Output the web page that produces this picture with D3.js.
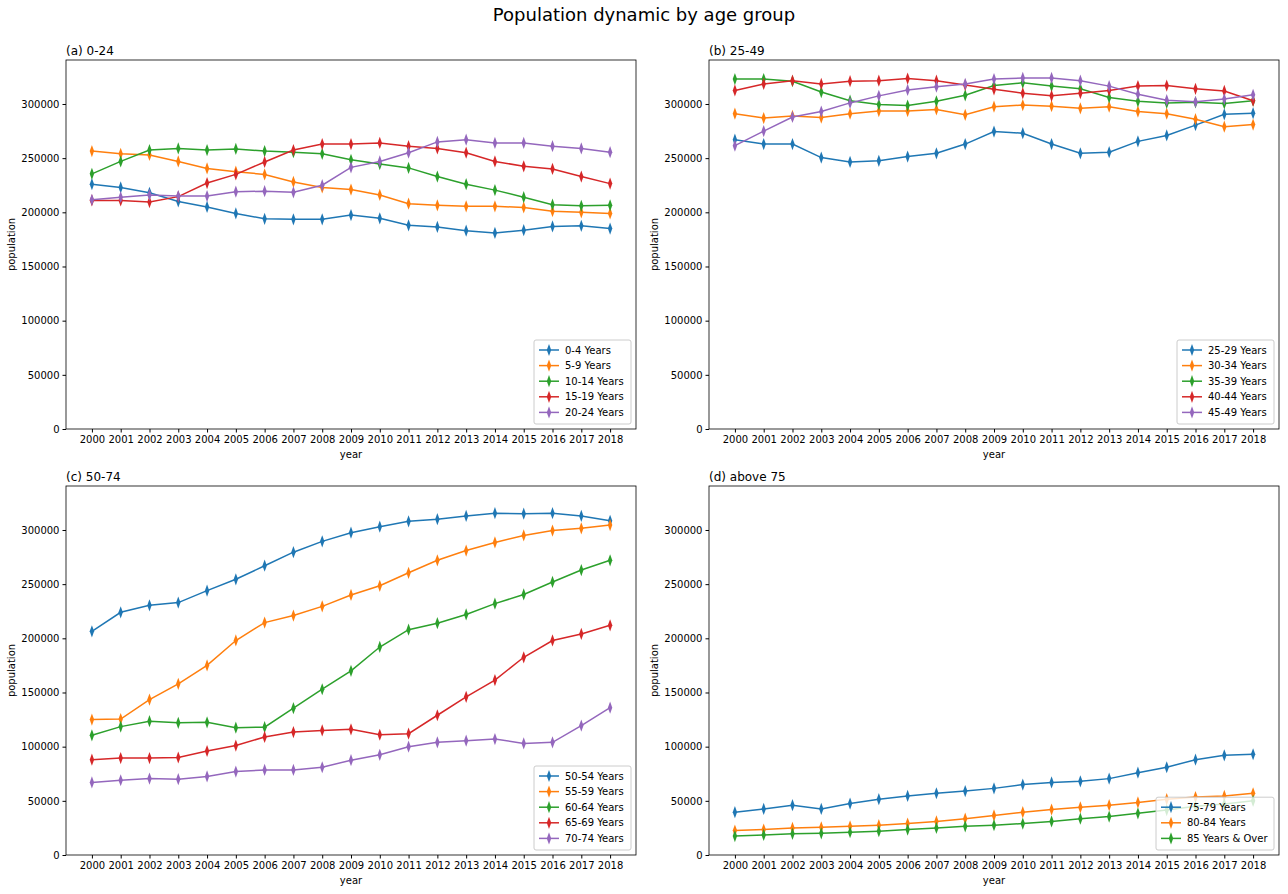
<!DOCTYPE html>
<html><head><meta charset="utf-8">
<script src="https://cdn.jsdelivr.net/npm/d3@7"></script>
<style>body{margin:0;background:#fff;font-family:"DejaVu Sans",sans-serif}</style>
</head><body><svg id="c" width="1288" height="894"></svg>
<script>
const years = d3.range(2000, 2019).map(String);
const yTicks = [0,50000,100000,150000,200000,250000,300000];
const colors = ["#1f77b4","#ff7f0e","#2ca02c","#d62728","#9467bd"];
const panelTitles = ["(a) 0-24","(b) 25-49","(c) 50-74","(d) above 75"];
const namesA = ["0-4 Years","5-9 Years","10-14 Years","15-19 Years","20-24 Years"];
const valsA = [
[226,223,218,210,205,199,194,193.5,193.5,197.5,194.5,188,186.5,183,181,183.5,187,187.5,185],
[256.5,254,253,247,240.5,237.5,235,228,223,221,216,208,206.5,205.5,205.5,204.5,201,200,199],
[235.5,247,257.5,259,257.5,258.5,256.5,255.5,254,248.5,244.5,241,233,226,220.5,214,207,206,206.5],
[211,211,209.5,214.5,227,235,246.5,257.5,263,263,264,261,259,255,247,242.5,240,233,226.5],
[211.5,214,216,215,215,219,219.5,218.5,225,241.5,247,255,265,267,264,264,261,259,255.5]];
const namesB = ["25-29 Years","30-34 Years","35-39 Years","40-44 Years","45-49 Years"];
const valsB = [
[267,263,263,250.5,246.5,247.5,251.5,254.5,263,274.5,273,263,254.5,255.5,265.5,271,280.5,290.5,291.5],
[291,287,289,287.5,291,293.5,293.5,295,290,297.5,299,298,296,297.5,293,291,286,279,281],
[323,323,321,311,303,299.5,298.5,302.5,308,317,319.5,316.5,314,306,302.5,301,301.5,300.5,303],
[312.5,318.5,321.5,318.5,321,321.5,323.5,321.5,317.5,313.5,310,307.5,310,312.5,316.5,317,314,312,303],
[261.5,275,288,293,301,307.5,313,316,318.5,323,324,324,321.5,316.5,309,303.5,302,304.5,308.5]];
const namesC = ["50-54 Years","55-59 Years","60-64 Years","65-69 Years","70-74 Years"];
const valsC = [
[206.5,224,230.5,233,244,254.5,267,279.5,289.5,297.5,303,308,310,313,315.5,315,315.5,313,308.5],
[125,125.5,143.5,158,175,198,214.5,221,229.5,240,248.5,260.5,272,281,288.5,295,299.5,301.5,304.5],
[110.5,118.5,123.5,122,122.5,117.5,118,135.5,153,170,192,208,214,222,232,240.5,252,263,272],
[88,89.5,89.5,90,96,101,109,113.5,115,116,111,112,129,146,161.5,182.5,198,204,212],
[67,69,70.5,70,72.5,77,78.5,78.5,81,87.5,92.5,100,104,105.5,107,103,104,119.5,136]];
const namesD = ["75-79 Years","80-84 Years","85 Years & Over"];
const valsD = [
[39.5,42.5,46,42.5,47.5,51.5,54.5,57,59,61.5,65,67,68,70.5,76,81,88,92,93],
[22.5,23.5,25,25.5,26.5,27.5,29,31,33.5,36.5,39.5,42,44,46,48.5,51.5,53.5,54.5,57],
[17.5,18.5,19.5,20,21,22,23.5,25,26.5,27.5,29,31,33.5,35.5,38.5,41.5,45,47,50]];

const svg = d3.select("#c");
svg.append("text").attr("x",644).attr("y",21).attr("text-anchor","middle").attr("font-size",18).text("Population dynamic by age group");
const panels = [
 {x0:66,y0:60,names:namesA,vals:valsA},
 {x0:709,y0:60,names:namesB,vals:valsB},
 {x0:66,y0:486,names:namesC,vals:valsC},
 {x0:709,y0:486,names:namesD,vals:valsD}];
const W=570,H=369;
const diamond = d3.symbol().type(d3.symbolDiamond).size(30);
panels.forEach((p,pi)=>{
  const g = svg.append("g").attr("transform",`translate(${p.x0},${p.y0})`);
  const x = d3.scaleLinear().domain([-0.9,18.9]).range([0,W]);
  const y = d3.scaleLinear().domain([0,340600]).range([H,0]);
  const xa = g.append("g").attr("transform",`translate(0,${H})`).call(d3.axisBottom(x).tickValues(d3.range(19)).tickFormat(i=>years[i]).tickSizeOuter(0).tickSize(3.5));
  const ya = g.append("g").call(d3.axisLeft(y).tickValues(yTicks).tickFormat(d3.format("d")).tickSizeOuter(0).tickSize(3.5));
  [xa,ya].forEach(a=>{a.selectAll("text").attr("font-size",10).attr("font-family","DejaVu Sans").attr("fill","#000");a.select(".domain").remove();});
  g.append("rect").attr("width",W).attr("height",H).attr("fill","none").attr("stroke","#000").attr("stroke-width",0.8);
  g.append("text").attr("x",0).attr("y",-5).attr("font-size",12).text(panelTitles[pi]);
  g.append("text").attr("x",W/2).attr("y",H+29).attr("text-anchor","middle").attr("font-size",10).text("year");
  g.append("text").attr("transform",`translate(-51,${H/2}) rotate(-90)`).attr("text-anchor","middle").attr("font-size",10).text("population");
  const line = d3.line().x((d,i)=>x(i)).y(d=>y(d*1000));
  p.vals.forEach((s,k)=>{
    g.append("path").attr("d",line(s)).attr("fill","none").attr("stroke",colors[k]).attr("stroke-width",1.5);
    g.selectAll(null).data(s).join("path").attr("d",diamond)
     .attr("transform",(d,i)=>`translate(${x(i)},${y(d*1000)}) scale(0.75,1.2)`).attr("fill",colors[k]);
  });
  const n=p.names.length, lw = pi===3?118:97, lh=n*15.6+6;
  const lg = g.append("g").attr("transform",`translate(${W-5-lw},${H-5-lh})`);
  lg.append("rect").attr("width",lw).attr("height",lh).attr("fill","#fff").attr("fill-opacity",0.8).attr("stroke","#ccc").attr("rx",2);
  p.names.forEach((nm,k)=>{
    const yy = 10+k*15.6;
    lg.append("line").attr("x1",5).attr("x2",25).attr("y1",yy).attr("y2",yy).attr("stroke",colors[k]).attr("stroke-width",1.5);
    lg.append("path").attr("d",diamond).attr("transform",`translate(15,${yy}) scale(0.75,1.2)`).attr("fill",colors[k]);
    lg.append("text").attr("x",31).attr("y",yy+3.5).attr("font-size",10).text(nm);
  });
});
</script></body></html>
